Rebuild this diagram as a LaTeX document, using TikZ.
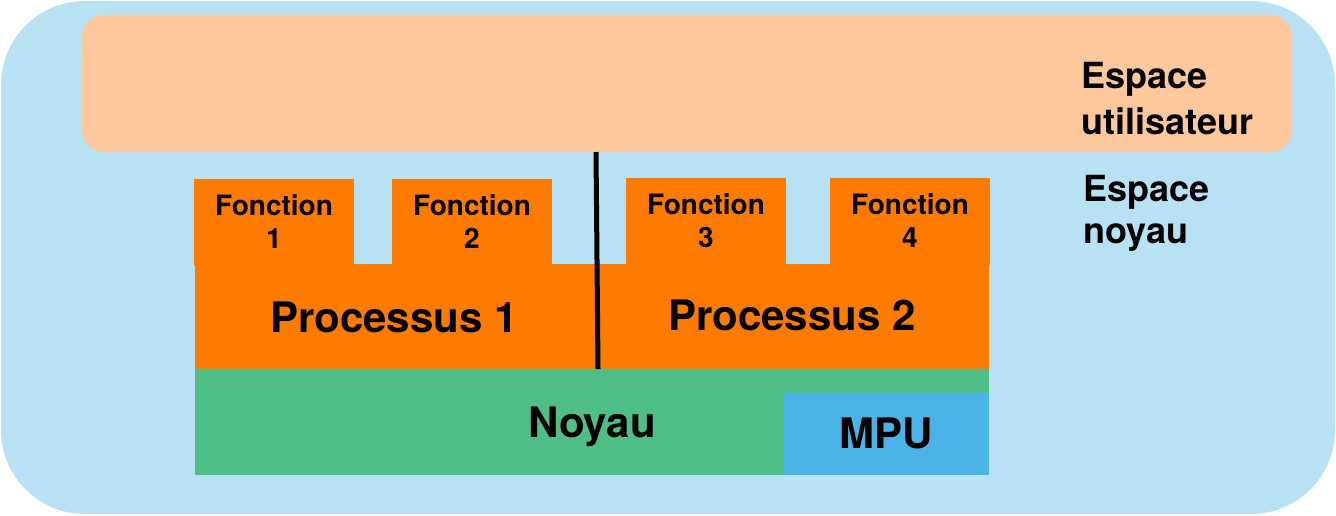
\documentclass[tikz,border=0pt]{standalone}
\usepackage{fontspec}
\setmainfont{TeX Gyre Heros}
\usetikzlibrary{positioning}
\definecolor{ciel}{HTML}{B8E1F4}
\definecolor{peche}{HTML}{FDC89B}
\definecolor{orangeproc}{HTML}{FF7B00}
\definecolor{vertnoyau}{HTML}{50BF87}
\definecolor{bleumpu}{HTML}{4BB3E6}
\tikzset{
  txtfct/.style={font=\bfseries\fontsize{14}{16.5}\selectfont, align=center, inner sep=0},
  txtgros/.style={font=\bfseries\fontsize{21}{25}\selectfont, inner sep=0},
  txtespace/.style={font=\bfseries\fontsize{18}{23}\selectfont, align=left, inner sep=0, anchor=north west},
}
\begin{document}
\begin{tikzpicture}[x=0.5pt,y=-0.5pt]
\useasboundingbox (0,0) rectangle (1336,515);
% fond et espace utilisateur
\fill[ciel, rounded corners=42pt] (1,1) rectangle (1335,514);
\fill[peche, rounded corners=11pt] (82,15) rectangle (1292,152);
\node[txtespace] (user) at (1081,62) {Espace\\utilisateur};
\node[txtespace, font=\bfseries\fontsize{18}{21}\selectfont] (kernel) at (1083,175) {Espace\\noyau};
% fonctions
\foreach \i/\x/\y in {1/194/179, 2/392/179, 3/626/178, 4/830/178} {
  \fill[orangeproc] (\x,\y) rectangle ++(160,87);
  \node[txtfct] (fct\i) at (\x+80,\y+43) {Fonction\\\i};
}
% processus
\fill[orangeproc] (195,264) rectangle (989,370);
\node[txtgros] (proc1) at (394,317) {Processus 1};
\node[txtgros] (proc2) at (792,315) {Processus 2};
% noyau et MPU
\fill[vertnoyau] (195,369) rectangle (989,475);
\fill[bleumpu] (784,393) rectangle (989,475);
\node[txtgros, anchor=base] (noyau) at (592,437) {Noyau};
\node[txtgros] (mpu) at (886,433) {MPU};
% separation
\coordinate (sepHaut) at (596,152);
\coordinate (sepBas) at (598,369);
\draw[line width=2.5pt] (sepHaut) -- (sepBas);
\end{tikzpicture}
\end{document}
